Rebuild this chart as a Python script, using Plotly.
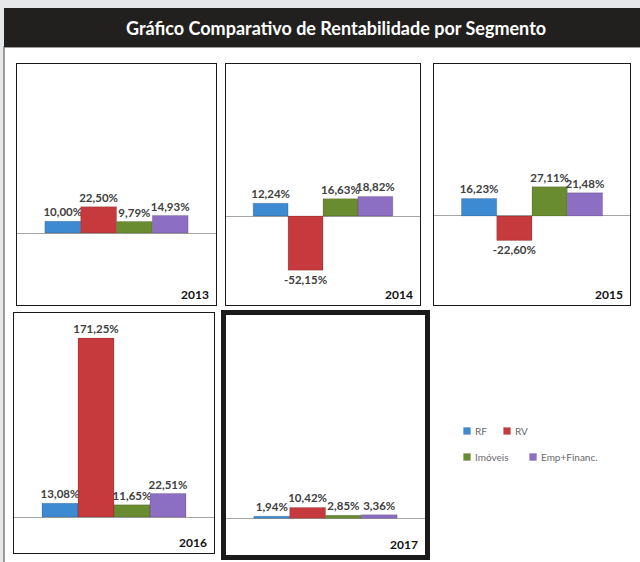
import plotly.graph_objects as go

W, H = 640, 562

YEARS = ["2013", "2014", "2015", "2016", "2017"]
SEGMENTS = ["RF", "RV", "Imóveis", "Emp+Financ."]
RF = [10.00, 12.24, 16.23, 13.08, 1.94]
RV = [22.50, -52.15, -22.60, 171.25, 10.42]
IMOVEIS = [9.79, 16.63, 27.11, 11.65, 2.85]
EMP_FINANC = [14.93, 18.82, 21.48, 22.51, 3.36]

COLORS = {"RF": "#3D8AD2", "RV": "#C63A3D", "Imóveis": "#6A8C30", "Emp+Financ.": "#8C6EC2",
          "bg": "#E6E7E9", "header": "#221F1F", "label": "#404040", "zero": "#A6A6A6"}

# panel boxes in pixels (x0, x1, y0, y1), y measured from the top
PANELS = [(17, 216, 64, 305), (226, 420, 64, 305), (434, 630, 64, 305),
          (14, 214, 313, 553), (226, 425, 315, 555)]
Y_RANGES = [(-61.5, 144.4), (-85.6, 146.2), (-82.4, 140.7), (-34.4, 195.2), (-35.2, 195.2)]
# legend icon centres in pixels
LEGEND_POS = [(467, 431), (507, 431), (467, 457), (533, 457)]


def px(x):
    return x / W


def py(y):
    return 1 - y / H


series = {"RF": RF, "RV": RV, "Imóveis": IMOVEIS, "Emp+Financ.": EMP_FINANC}
fig = go.Figure()
for i, year in enumerate(YEARS):
    ax = "" if i == 0 else str(i + 1)
    for name, values in series.items():
        fig.add_trace(go.Bar(
            x=[year], y=[values[i]], name=name, xaxis="x" + ax, yaxis="y" + ax,
            marker={"color": COLORS[name], "line": {"color": "rgba(0,0,0,0.25)", "width": 0.6}},
            texttemplate="%{y:.2f}%", textposition="outside", constraintext="none", cliponaxis=False,
            textfont={"size": 11.5, "color": COLORS["label"], "weight": "bold"},
            showlegend=False, legendgroup=name))
    x0, x1, y0, y1 = PANELS[i]
    lw = 5 if year == "2017" else 1.3
    axis_common = {"showline": True, "mirror": True, "linecolor": "#1A1A1A", "linewidth": lw,
                   "showticklabels": False, "ticks": "", "showgrid": False, "fixedrange": True}
    fig.layout["xaxis" + ax] = dict(axis_common, domain=[px(x0), px(x1)], anchor="y" + ax, zeroline=False)
    fig.layout["yaxis" + ax] = dict(axis_common, domain=[py(y1), py(y0)], anchor="x" + ax,
                                    range=list(Y_RANGES[i]), zeroline=True,
                                    zerolinecolor=COLORS["zero"], zerolinewidth=1.2)
    fig.add_annotation(text=year, xref="paper", yref="paper", x=px(x1 - 5), y=py(y1 - 11),
                       xanchor="right", yanchor="middle", showarrow=False,
                       font={"size": 12, "color": "#111111", "weight": "bold"})

# legend: small squares with the segment names
for name, (cx, cy) in zip(SEGMENTS, LEGEND_POS):
    fig.add_shape(type="rect", xref="paper", yref="paper", x0=px(cx - 3.5), x1=px(cx + 3.5),
                  y0=py(cy + 3.5), y1=py(cy - 3.5), fillcolor=COLORS[name],
                  line={"color": "rgba(0,0,0,0.2)", "width": 0.5})
    fig.add_annotation(text=name, xref="paper", yref="paper", x=px(cx + 6), y=py(cy),
                       xanchor="left", yanchor="middle", showarrow=False,
                       font={"size": 10, "color": "#6A6A6A"})

# page background, white body and black header band
fig.add_shape(type="rect", xref="paper", yref="paper", x0=px(4), x1=px(644), y0=py(566), y1=py(47),
              fillcolor="white", line={"color": "#7F7F7F", "width": 1.5}, layer="below")
fig.add_shape(type="rect", xref="paper", yref="paper", x0=px(4), x1=px(644), y0=py(47), y1=py(8),
              fillcolor=COLORS["header"], line={"width": 0}, layer="below")
fig.add_annotation(text="Gráfico Comparativo de Rentabilidade por Segmento", xref="paper", yref="paper",
                   x=px(336), y=py(28), xanchor="center", yanchor="middle", showarrow=False,
                   font={"size": 18, "color": "white", "weight": "bold"})

fig.update_layout(
    width=W, height=H, margin={"l": 0, "r": 0, "t": 0, "b": 0},
    paper_bgcolor=COLORS["bg"], plot_bgcolor="rgba(0,0,0,0)",
    font={"family": "Lato, 'Open Sans', sans-serif", "color": COLORS["label"]},
    separators=",.", barmode="group", bargap=0.28, bargroupgap=0, showlegend=False,
)

fig.write_html("out.html", config={"displayModeBar": False},
               post_script="document.body.style.margin='0';")
